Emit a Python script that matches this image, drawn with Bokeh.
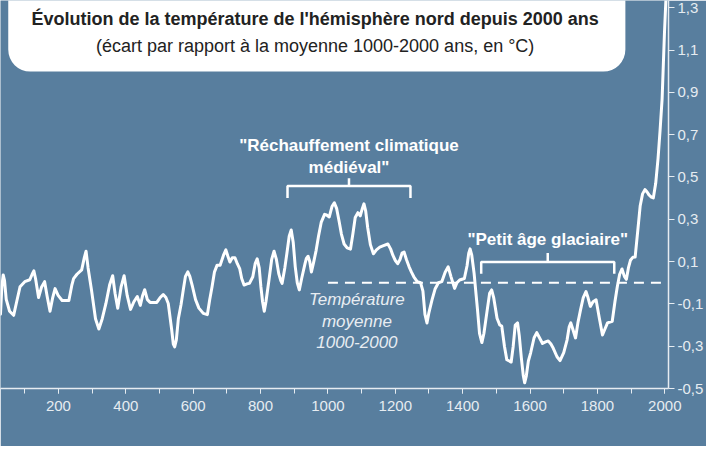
from bokeh.plotting import figure
from bokeh.models import BoxAnnotation, Label, FixedTicker, SingleIntervalTicker
from bokeh.embed import file_html
from bokeh.resources import INLINE

# ---- data ----
years = [28, 32, 36, 40, 45, 55, 67, 76, 86, 100,
         115, 122, 127, 132, 141, 150, 159, 166, 175, 183,
         190, 199, 211, 231, 240, 245, 255, 269, 277, 282,
         288, 298, 310, 320, 330, 341, 352, 361, 368, 376,
         386, 395, 404, 414, 424, 434, 443, 450, 456, 464,
         472, 492, 502, 511, 519, 526, 536, 541, 545, 550,
         556, 564, 571, 577, 584, 590, 598, 607, 617, 630,
         642, 649, 656, 663, 671, 680, 690, 697, 703, 709,
         716, 724, 731, 738, 744, 751, 760, 767, 777, 784,
         790, 796, 801, 806, 811, 816, 825, 833, 840, 847,
         854, 860, 864, 872, 878, 885, 891, 897, 903, 909,
         915, 922, 932, 936, 941, 946, 951, 958, 965, 972,
         980, 990, 996, 1004, 1012, 1019, 1026, 1033, 1040, 1048,
         1057, 1067, 1074, 1081, 1089, 1096, 1102, 1107, 1112, 1118,
         1126, 1135, 1144, 1154, 1165, 1178, 1186, 1193, 1200, 1207,
         1214, 1220, 1226, 1233, 1241, 1248, 1255, 1265, 1275, 1282,
         1288, 1294, 1300, 1309, 1318, 1328, 1338, 1348, 1357, 1365,
         1376, 1383, 1391, 1405, 1413, 1418, 1422, 1427, 1434, 1440,
         1444, 1450, 1457, 1463, 1473, 1480, 1486, 1492, 1502, 1510,
         1516, 1524, 1531, 1544, 1550, 1556, 1563, 1568, 1574, 1580,
         1584, 1589, 1595, 1602, 1612, 1620, 1628, 1637, 1646, 1654,
         1662, 1669, 1680, 1689, 1700, 1710, 1716, 1721, 1727, 1735,
         1742, 1750, 1758, 1766, 1772, 1779, 1787, 1796, 1806, 1815,
         1822, 1830, 1844, 1852, 1859, 1866, 1873, 1880, 1886, 1892,
         1898, 1905, 1912, 1920, 1927, 1934, 1941, 1947, 1953, 1960,
         1966, 1973, 1980, 1986, 1992, 1999, 2005]
temps = [-0.149, -0.02, 0.037, 0.01, -0.079, -0.135, -0.154, -0.09, -0.019, 0.005,
         0.014, 0.04, 0.056, 0.02, -0.070, -0.02, 0.005, -0.06, -0.135, -0.07,
         -0.028, -0.06, -0.084, -0.084, -0.01, 0.019, 0.04, 0.061, 0.12, 0.149,
         0.07, -0.033, -0.17, -0.219, -0.17, -0.098, -0.01, 0.033, -0.05, -0.121,
         -0.02, 0.033, -0.06, -0.126, -0.09, -0.065, -0.107, -0.06, -0.033, -0.08,
         -0.093, -0.093, -0.07, -0.056, -0.07, -0.098, -0.22, -0.29, -0.303, -0.27,
         -0.17, -0.103, -0.03, 0.03, 0.051, 0.03, -0.019, -0.08, -0.120, -0.145,
         -0.151, -0.08, -0.019, 0.05, 0.083, 0.083, 0.13, 0.155, 0.125, 0.098,
         0.118, 0.118, 0.09, 0.067, 0.02, -0.011, -0.005, -0.003, 0.028, 0.09,
         0.113, 0.07, -0.019, -0.09, -0.135, -0.09, 0.013, 0.11, 0.149, 0.11,
         0.043, 0.01, -0.003, 0.07, 0.137, 0.22, 0.249, 0.19, 0.075, 0.0,
         -0.034, 0.02, 0.090, 0.115, 0.125, 0.1, 0.051, 0.1, 0.153, 0.22,
         0.285, 0.323, 0.32, 0.311, 0.36, 0.378, 0.35, 0.292, 0.23, 0.183,
         0.165, 0.159, 0.23, 0.308, 0.331, 0.316, 0.35, 0.373, 0.34, 0.261,
         0.18, 0.137, 0.155, 0.168, 0.175, 0.183, 0.16, 0.129, 0.105, 0.090,
         0.11, 0.14, 0.145, 0.11, 0.075, 0.05, 0.028, 0.005, 0.000, -0.04,
         -0.15, -0.190, -0.14, -0.081, -0.03, 0.000, 0.005, 0.05, 0.075, 0.03,
         -0.027, 0.0, 0.013, 0.020, 0.08, 0.14, 0.160, 0.13, 0.043, -0.06,
         -0.127, -0.24, -0.283, -0.24, -0.127, -0.05, -0.034, -0.07, -0.168, -0.20,
         -0.205, -0.30, -0.364, -0.375, -0.30, -0.20, -0.190, -0.25, -0.353, -0.44,
         -0.473, -0.44, -0.37, -0.330, -0.26, -0.236, -0.26, -0.287, -0.28, -0.275,
         -0.29, -0.310, -0.35, -0.368, -0.33, -0.270, -0.21, -0.190, -0.22, -0.261,
         -0.19, -0.127, -0.07, -0.042, -0.07, -0.112, -0.09, -0.081, -0.17, -0.247,
         -0.22, -0.190, -0.182, -0.09, -0.019, 0.04, 0.065, 0.03, 0.016, 0.07,
         0.106, 0.12, 0.121, 0.25, 0.364, 0.42, 0.440, 0.43, 0.415, 0.405,
         0.401, 0.47, 0.588, 0.72, 0.868, 1.180, 1.400]

y_ticks = [-0.5, -0.3, -0.1, 0.1, 0.3, 0.5, 0.7, 0.9, 1.1, 1.3]
y_tick_labels = ["-0,5", "-0,3", "-0,1", "0,1", "0,3", "0,5", "0,7", "0,9", "1,1", "1,3"]
baseline_period = [1000, 2000]
medieval_period = [880, 1245]
little_ice_age_period = [1455, 1850]

title_text = "Évolution de la température de l'hémisphère nord depuis 2000 ans"
subtitle_text = "(écart par rapport à la moyenne 1000-2000 ans, en °C)"
source_text = "Sources : Sonechkin et al. puis NASA © Olivier Berruyer, www.les-crises.fr"

# ---- style ----
BG = "#587e9e"
FG = "#e6ecf1"
FONT = "Liberation Sans"

p = figure(width=706, height=446, x_range=(28, 2011), y_range=(-0.5, 1.334),
           y_axis_location="right", output_backend="svg", toolbar_location=None,
           background_fill_color=BG, border_fill_color=BG,
           min_border_left=0, min_border_top=0, min_border_right=36, min_border_bottom=58)
p.outline_line_color = None
p.grid.visible = False

xa = p.xaxis[0]
xa.ticker = SingleIntervalTicker(interval=200, num_minor_ticks=2)
xa.axis_line_color = FG
xa.axis_line_width = 1.5
xa.major_tick_line_color = FG
xa.minor_tick_line_color = FG
xa.major_tick_in = 0
xa.major_tick_out = 5
xa.minor_tick_in = 0
xa.minor_tick_out = 5
xa.major_label_text_color = FG
xa.major_label_text_font = FONT
xa.major_label_text_font_size = "15px"
xa.major_label_standoff = 7

ya = p.yaxis[0]
ya.ticker = FixedTicker(ticks=y_ticks, minor_ticks=[])
ya.major_label_overrides = dict(zip(y_ticks, y_tick_labels))
ya.axis_line_color = FG
ya.axis_line_width = 1.5
ya.major_tick_line_color = FG
ya.major_tick_in = 0
ya.major_tick_out = 6
ya.major_label_text_color = FG
ya.major_label_text_font = FONT
ya.major_label_text_font_size = "15px"
ya.major_label_standoff = 3

# ---- curve ----
p.line(years, temps, line_color="white", line_width=3, line_join="round", line_cap="round")

# ---- baseline ----
p.line(baseline_period, [0, 0], line_color="white", line_width=2, line_dash="10 7")

# ---- brackets ----
def bracket(period, y, drop, rise):
    a, b = period
    mid = (a + b) / 2
    p.line([a, a, b, b], [y - drop, y, y, y - drop], line_color="white", line_width=2.5)
    p.line([mid, mid], [y, y + rise], line_color="white", line_width=2.5)
    return mid

m_mid = bracket(medieval_period, 0.457, 0.056, 0.037)
l_mid = bracket(little_ice_age_period, 0.098, 0.056, 0.042)

# ---- title box ----
box = BoxAnnotation(left=51, right=1883, bottom=0.998, top=1.8,
                    fill_color="white", fill_alpha=1.0, line_color=None,
                    border_radius=22)
p.add_layout(box)

def lab(x, y, text, size, color, style="normal", align="center"):
    p.add_layout(Label(x=x, y=y, text=text, text_font=FONT, text_font_size=size,
                       text_color=color, text_font_style=style, text_align=align,
                       text_baseline="middle"))

lab(962, 1.245, title_text, "18px", "#222222", "bold")
lab(962, 1.119, subtitle_text, "18px", "#222222")

lab(m_mid, 0.648, "\"Réchauffement climatique", "17px", "white", "bold")
lab(m_mid, 0.546, "médiéval\"", "17px", "white", "bold")
lab(l_mid, 0.205, "\"Petit âge glaciaire\"", "17px", "white", "bold")

lab(1086, -0.079, "Température", "17px", "#e8edf2", "italic")
lab(1086, -0.182, "moyenne", "17px", "#e8edf2", "italic")
lab(1086, -0.280, "1000-2000", "17px", "#e8edf2", "italic")

lab(1072, -0.732, source_text, "12.5px", "#d5dee6", "italic")

open("out.html", "w").write(file_html(p, INLINE))
